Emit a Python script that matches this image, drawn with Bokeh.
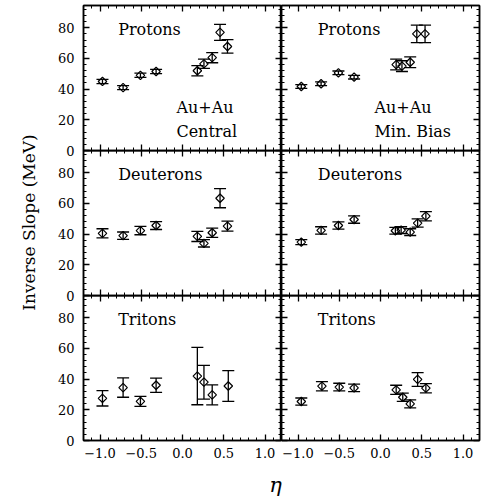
import math
from bokeh.plotting import figure
from bokeh.layouts import column, row
from bokeh.models import (LinearAxis, Whisker, TeeHead, ColumnDataSource, Range1d,
                          Label, SingleIntervalTicker, CustomJSTickFormatter,
                          CustomLabelingPolicy)
from bokeh.embed import file_html
from bokeh.resources import INLINE

# ---------------- data ----------------
x_tick_values = [-1.0, -0.5, 0.0, 0.5, 1.0]
x_tick_text = ["\u22121.0", "\u22120.5", "0.0", "0.5", "1.0"]

prot_c_eta = [-0.97, -0.72, -0.51, -0.32, 0.18, 0.26, 0.36, 0.455, 0.545]
prot_c_T = [45.0, 41.0, 49.0, 51.5, 52.0, 56.5, 60.5, 77.0, 67.8]
prot_c_err = [1.4, 1.3, 1.4, 1.4, 3.3, 3.0, 3.3, 5.2, 4.4]

prot_mb_eta = [-0.96, -0.72, -0.51, -0.32, 0.19, 0.26, 0.36, 0.44, 0.54]
prot_mb_T = [41.7, 43.5, 50.6, 47.8, 56.0, 55.0, 57.5, 76.0, 76.0]
prot_mb_err = [1.2, 1.2, 1.2, 1.2, 3.5, 3.5, 3.5, 5.7, 5.7]

deut_c_eta = [-0.97, -0.72, -0.51, -0.32, 0.18, 0.26, 0.36, 0.455, 0.545]
deut_c_T = [40.5, 39.0, 42.3, 45.6, 38.5, 34.0, 40.9, 63.4, 45.2]
deut_c_err = [3.0, 2.4, 2.7, 2.6, 3.3, 2.4, 3.0, 6.2, 3.3]

deut_mb_eta = [-0.96, -0.72, -0.51, -0.32, 0.18, 0.25, 0.36, 0.45, 0.55]
deut_mb_T = [34.8, 42.4, 45.6, 49.5, 42.2, 42.6, 41.3, 47.2, 51.7]
deut_mb_err = [1.6, 2.4, 2.4, 2.4, 2.2, 2.2, 2.2, 2.7, 3.0]

trit_c_eta = [-0.97, -0.72, -0.51, -0.32, 0.18, 0.26, 0.36, 0.555]
trit_c_T = [27.5, 34.5, 25.5, 36.0, 42.0, 38.0, 29.7, 35.5]
trit_c_err = [5.0, 6.3, 3.3, 4.7, 18.7, 11.0, 6.5, 10.0]

trit_mb_eta = [-0.96, -0.71, -0.50, -0.32, 0.19, 0.27, 0.36, 0.45, 0.55]
trit_mb_T = [25.4, 35.4, 34.8, 34.3, 33.0, 28.2, 23.9, 39.8, 34.1]
trit_mb_err = [2.3, 3.0, 2.5, 2.5, 3.0, 2.7, 2.6, 4.5, 3.0]

species = ["Protons", "Deuterons", "Tritons"]
y_label = "Inverse Slope (MeV)"
x_label = "\u03b7"

FONT = "DejaVu Serif"
FW, FH = 198, 145
YLAB_W = 40
OVER = 7   # extra room under rows 1-2 so the "0" labels are not cut; next row overlaps it


def style_axis(ax, show_labels, is_x):
    ax.ticker = SingleIntervalTicker(interval=0.5 if is_x else 20, num_minor_ticks=5)
    ax.major_tick_in = 6
    ax.major_tick_out = 0
    ax.minor_tick_in = 3
    ax.minor_tick_out = 0
    ax.major_tick_line_color = "black"
    ax.minor_tick_line_color = "black"
    ax.major_tick_line_width = 1.3
    ax.minor_tick_line_width = 1.0
    ax.axis_line_color = "black"
    ax.axis_line_width = 1.5
    ax.major_label_text_font = FONT
    ax.major_label_text_color = "black"
    if show_labels:
        ax.major_label_text_font_size = "13px"
        ax.major_label_standoff = 7 if is_x else 9
        if is_x:
            ax.formatter = CustomJSTickFormatter(
                args=dict(vals=x_tick_values, texts=x_tick_text),
                code="""
                for (let i = 0; i < vals.length; i++) {
                    if (Math.abs(vals[i] - tick) < 1e-6) return texts[i];
                }
                return tick.toFixed(1);
                """)
    else:
        ax.major_label_text_font_size = "0px"
        ax.major_label_standoff = 0
        ax.major_label_policy = CustomLabelingPolicy(code="return [];")


def make_panel(col, rw, eta, T, err):
    left = col == 0
    bottom = rw == 2
    p = figure(frame_width=FW, frame_height=FH,
               x_range=Range1d(-1.2, 1.2), y_range=Range1d(0, 94.5),
               output_backend="svg", toolbar_location=None,
               x_axis_location=None, y_axis_location=None,
               min_border=0,
               min_border_left=83 - YLAB_W if left else 0,
               min_border_right=0 if left else 2,
               min_border_top=5 if rw == 0 else 0,
               min_border_bottom=24 if bottom else OVER)
    p.xgrid.grid_line_color = None
    p.ygrid.grid_line_color = None
    p.outline_line_color = "black"
    p.outline_line_width = 1.5
    if rw == 0:
        p.background_fill_color = "white"
        p.border_fill_color = "white"
    else:
        p.background_fill_color = None
        p.border_fill_color = None

    ax_b = LinearAxis(); style_axis(ax_b, bottom, True); p.add_layout(ax_b, "below")
    ax_t = LinearAxis(); style_axis(ax_t, False, True); p.add_layout(ax_t, "above")
    ax_l = LinearAxis(); style_axis(ax_l, left, False); p.add_layout(ax_l, "left")
    ax_r = LinearAxis(); style_axis(ax_r, False, False); p.add_layout(ax_r, "right")

    src = ColumnDataSource(dict(x=eta, y=T,
                                upper=[t + e for t, e in zip(T, err)],
                                lower=[t - e for t, e in zip(T, err)]))
    w = Whisker(source=src, base="x", upper="upper", lower="lower", dimension="height",
                line_color="black", line_width=1.3,
                upper_head=TeeHead(size=12, line_color="black", line_width=1.3),
                lower_head=TeeHead(size=12, line_color="black", line_width=1.3))
    p.add_layout(w)
    p.scatter("x", "y", source=src, marker="square", angle=math.pi / 4, size=6,
              fill_color=None, line_color="black", line_width=1.2)

    p.add_layout(Label(x=-0.78 if left else -0.76, y=78.7, text=species[rw],
                       text_font=FONT, text_font_size="16px", text_color="black",
                       text_baseline="alphabetic"))
    if rw == 0:
        p.add_layout(Label(x=-0.074, y=27.8, text="Au+Au", text_font=FONT,
                           text_font_size="16px", text_color="black",
                           text_baseline="alphabetic"))
        p.add_layout(Label(x=-0.074, y=12.4, text="Central" if left else "Min. Bias",
                           text_font=FONT, text_font_size="16px", text_color="black",
                           text_baseline="alphabetic"))
    return p


panels = [
    [(prot_c_eta, prot_c_T, prot_c_err), (prot_mb_eta, prot_mb_T, prot_mb_err)],
    [(deut_c_eta, deut_c_T, deut_c_err), (deut_mb_eta, deut_mb_T, deut_mb_err)],
    [(trit_c_eta, trit_c_T, trit_c_err), (trit_mb_eta, trit_mb_T, trit_mb_err)],
]

rows = []
for rw in range(3):
    figs = [make_panel(c, rw, *panels[rw][c]) for c in range(2)]
    if rw == 0:
        rows.append(row(*figs, spacing=0))
    else:
        rows.append(row(*figs, spacing=0, margin=(-OVER, 0, 0, 0)))

GRID_H = 5 + 3 * FH + 24


def blank_fig(w, h):
    f = figure(width=w, height=h, x_range=Range1d(0, w), y_range=Range1d(0, h),
               output_backend="svg", toolbar_location=None, min_border=0,
               x_axis_location=None, y_axis_location=None)
    f.xgrid.grid_line_color = None
    f.ygrid.grid_line_color = None
    f.outline_line_color = None
    f.border_fill_color = "white"
    f.background_fill_color = "white"
    return f


ylab_fig = blank_fig(YLAB_W, GRID_H)
ylab_fig.add_layout(Label(x=28, y=GRID_H - 222, text=y_label, angle=math.pi / 2,
                          text_font=FONT, text_font_size="17px", text_color="black",
                          text_align="center", text_baseline="middle"))

eta_fig = blank_fig(481, 499 - GRID_H)
eta_fig.add_layout(Label(x=275, y=(499 - GRID_H) - 20, text=x_label, text_font=FONT,
                         text_font_size="21px", text_font_style="italic",
                         text_color="black", text_align="center", text_baseline="middle"))

layout = column(row(ylab_fig, column(*rows, spacing=0), spacing=0), eta_fig, spacing=0)

with open("out.html", "w") as f:
    f.write(file_html(layout, INLINE))
